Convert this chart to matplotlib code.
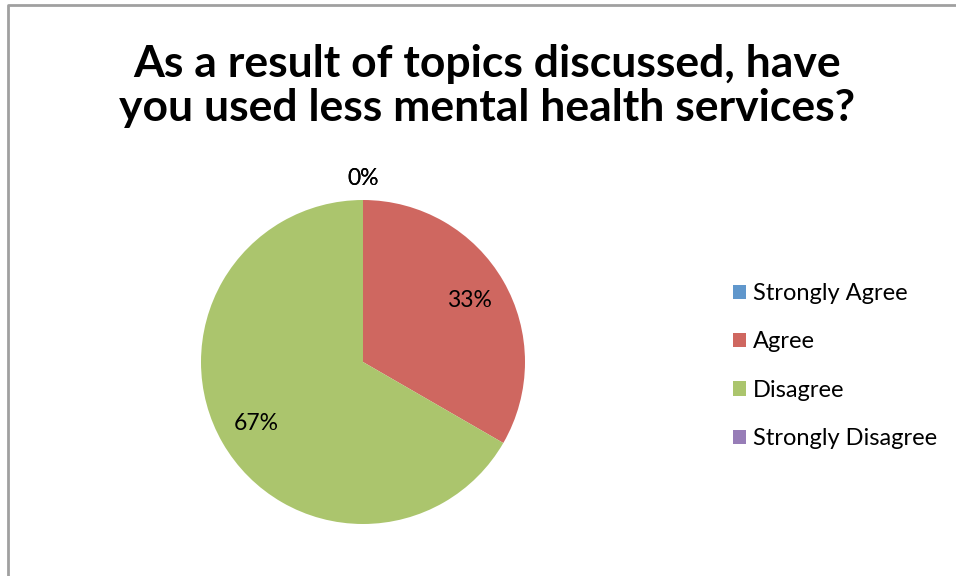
import matplotlib
matplotlib.use("Agg")
import matplotlib.pyplot as plt
import numpy as np
from matplotlib.patches import Patch
from matplotlib.lines import Line2D

categories = ["Strongly Agree", "Agree", "Disagree", "Strongly Disagree"]
responses = [0, 1, 2, 0]
colors = ["#6097CC", "#CF6760", "#ABC56D", "#977DB7"]
title = "As a result of topics discussed, have\nyou used less mental health services?"

W, H = 956, 576
fig = plt.figure(figsize=(W / 100, H / 100), dpi=100)
fig.patch.set_facecolor("white")

# chart frame (left and top edges)
frame = Line2D([8 / W, 8 / W, 1.0], [0.0, 1 - 5 / H, 1 - 5 / H],
               transform=fig.transFigure, color="#A0A0A0", lw=2)
fig.add_artist(frame)

fig.text(487 / W, 1 - 86 / H, title, ha="center", va="center",
         fontsize=32, fontweight="bold", family="Lato", linespacing=1.13)

cx, cy, r = 363, 362, 162
ax = fig.add_axes([(cx - r) / W, (H - cy - r) / H, 2 * r / W, 2 * r / H])
total = sum(responses)
wedges, _ = ax.pie(responses, colors=colors, startangle=90, counterclock=False,
                   radius=1.0, wedgeprops=dict(linewidth=0))
ax.set_xlim(-1, 1)
ax.set_ylim(-1, 1)
ax.set_aspect("equal")
ax.axis("off")

for w, v in zip(wedges, responses):
    mid = np.deg2rad((w.theta1 + w.theta2) / 2)
    dist = 0.76 if v > 0 else 1.13
    ax.text(dist * np.cos(mid), dist * np.sin(mid), f"{v / total:.0%}",
            ha="center", va="center", fontsize=16.5, family="Lato",
            color="#000000")

handles = [Patch(facecolor=c, edgecolor="none") for c in colors]
fig.legend(handles, categories, loc="upper left",
           bbox_to_anchor=(733 / W, 1 - 283 / H), frameon=False,
           prop=dict(family="Lato", size=17), handlelength=0.55,
           handleheight=0.55, handletextpad=0.3, labelspacing=1.16,
           borderaxespad=0, borderpad=0)

fig.savefig("out.png", dpi=100, facecolor="white")
